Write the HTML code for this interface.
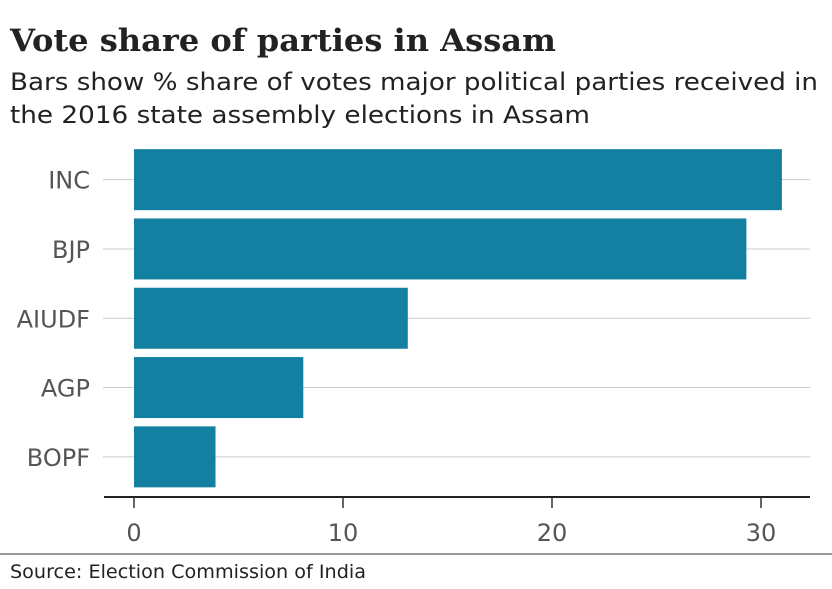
<!DOCTYPE html>
<html><head><meta charset="utf-8"><style>
body{margin:0;background:#fff;width:832px;height:585px;overflow:hidden;font-family:"DejaVu Sans",sans-serif}
</style></head><body>
<svg width="832" height="585">
<text x="10" y="51" font-family="DejaVu Serif,serif" font-weight="bold" font-size="31" fill="#222" textLength="546" lengthAdjust="spacingAndGlyphs">Vote share of parties in Assam</text>
<text x="10" y="90" font-family="DejaVu Sans,sans-serif" font-size="24" fill="#222" textLength="808" lengthAdjust="spacingAndGlyphs">Bars show % share of votes major political parties received in</text>
<text x="10" y="123" font-family="DejaVu Sans,sans-serif" font-size="24" fill="#222" textLength="580" lengthAdjust="spacingAndGlyphs">the 2016 state assembly elections in Assam</text>
<g id="plot"></g>
<line x1="0" x2="832" y1="554" y2="554" stroke="#333" stroke-width="1"/>
<text x="10" y="578" font-family="DejaVu Sans,sans-serif" font-size="19" fill="#222" textLength="356" lengthAdjust="spacingAndGlyphs">Source: Election Commission of India</text>
</svg>
<script>
const categories=["INC","BJP","AIUDF","AGP","BOPF"];
const values=[31.0,29.3,13.1,8.1,3.9];
const ticks=[0,10,20,30];
const ns="http://www.w3.org/2000/svg";
const g=document.getElementById('plot');
const x=v=>134+v*20.9;
const bandTop=145,band=69.3,barH=61;
const y=i=>bandTop+i*band+(band-barH)/2;
function mk(t,a){const e=document.createElementNS(ns,t);for(const k in a)e.setAttribute(k,a[k]);g.appendChild(e);return e;}
categories.forEach((c,i)=>{
 const cy=y(i)+barH/2;
 const gl=mk('line',{x1:103,x2:810,y1:cy,y2:cy,stroke:'#ccc','stroke-width':1});
 
 
 const r=mk('rect',{x:x(0),y:y(i),width:x(values[i])-x(0),height:barH,fill:'#1380A1'});
 
 
 const t=mk('text',{x:90,y:cy+9,'text-anchor':'end','font-size':24,fill:'#555'});
 t.textContent=c;
 
 
});
const ax=mk('line',{x1:104,x2:810,y1:497,y2:497,stroke:'#222','stroke-width':2});


ticks.forEach(v=>{
 const tk=mk('line',{x1:x(v),x2:x(v),y1:497,y2:508,stroke:'#333','stroke-width':1.5});
 
 
 const t=mk('text',{x:x(v),y:541,'text-anchor':'middle','font-size':24,fill:'#555'});
 t.textContent=v;
 
 
});
</script>
</body></html>
